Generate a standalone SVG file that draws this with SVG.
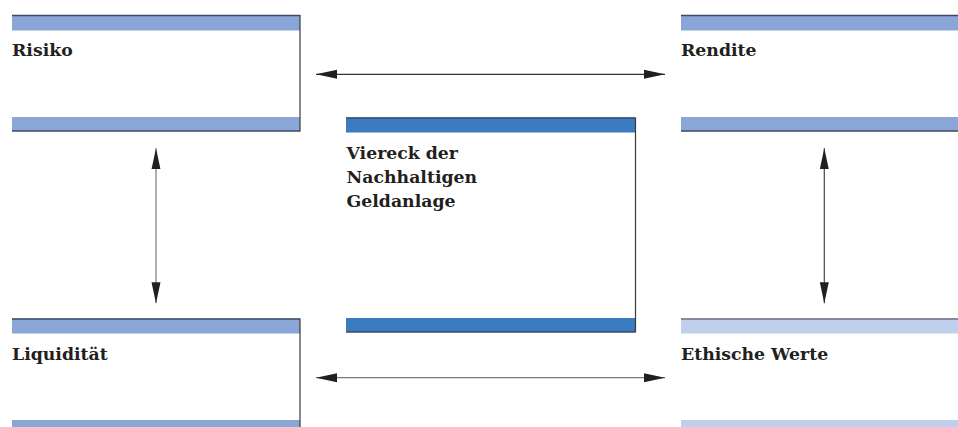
<svg xmlns="http://www.w3.org/2000/svg" width="958" height="427" viewBox="0 0 958 427">
  <style>
    .lbl { font-family: "DejaVu Serif", "Liberation Serif", serif; font-weight: bold; font-size: 17.3px; fill: #231f20; }
    .band { fill: #8aa6d6; }
    .bandC { fill: #3b7bbf; }
    .bandE { fill: #c0cfeb; }
    .edge { stroke: #3c4a66; stroke-width: 1.5; fill: none; }
    .edgeE { stroke: #6b7080; stroke-width: 1.5; fill: none; }
    .side { stroke: #3a3a3a; stroke-width: 1.2; fill: none; }
    .conn { stroke-width: 1.2; fill: none; marker-start: url(#ah); marker-end: url(#ah); }
  </style>
  <defs>
    <marker id="ah" markerUnits="userSpaceOnUse" markerWidth="21" markerHeight="10" refX="21" refY="5" orient="auto-start-reverse" viewBox="0 0 21 10">
      <path d="M0,0.5 L21,5 L0,9.5 Z" fill="#231f20"/>
    </marker>
  </defs>
  <rect width="958" height="427" fill="#ffffff"/>

  <g id="risiko">
    <rect class="band" x="12" y="15" width="288" height="15.5"/>
    <rect class="band" x="12" y="117" width="288" height="14"/>
    <line class="edge" x1="12" y1="15.5" x2="300" y2="15.5"/>
    <line class="edge" x1="12" y1="131" x2="300" y2="131"/>
    <line class="side" x1="300" y1="15" x2="300" y2="131.5"/>
    <text class="lbl" x="12" y="56">Risiko</text>
  </g>

  <g id="rendite">
    <rect class="band" x="681" y="15" width="277" height="15.5"/>
    <rect class="band" x="681" y="117" width="277" height="14"/>
    <line class="edge" x1="681" y1="15.5" x2="958" y2="15.5"/>
    <line class="edge" x1="681" y1="131" x2="958" y2="131"/>
    <text class="lbl" x="681" y="55.5">Rendite</text>
  </g>

  <g id="viereck">
    <rect class="bandC" x="346" y="117.5" width="289" height="15"/>
    <rect class="bandC" x="346" y="318" width="289" height="14"/>
    <line class="edge" x1="346" y1="118" x2="635" y2="118"/>
    <line class="edge" x1="346" y1="332" x2="635" y2="332"/>
    <line class="side" x1="635.5" y1="117.5" x2="635.5" y2="332.5"/>
    <text class="lbl" x="346.5" y="158.5">Viereck der</text>
    <text class="lbl" x="346.5" y="182.5">Nachhaltigen</text>
    <text class="lbl" x="346.5" y="206.5">Geldanlage</text>
  </g>

  <g id="liquiditaet">
    <rect class="band" x="12" y="318.5" width="288" height="15"/>
    <rect class="band" x="12" y="420" width="288" height="7"/>
    <line class="edge" x1="12" y1="319" x2="300" y2="319"/>
    <line class="side" x1="300" y1="318.5" x2="300" y2="427"/>
    <text class="lbl" x="12" y="359.5">Liquidität</text>
  </g>

  <g id="ethische-werte">
    <rect class="bandE" x="681" y="318.5" width="277" height="15"/>
    <rect class="bandE" x="681" y="420" width="277" height="7"/>
    <line class="edgeE" x1="681" y1="319" x2="958" y2="319"/>
    <text class="lbl" x="681" y="359.5">Ethische Werte</text>
  </g>

  <g id="connectors">
    <line class="conn" stroke="#333333" x1="316" y1="74.3" x2="665" y2="74.3"/>
    <line class="conn" stroke="#7a7a7a" x1="316" y1="377.7" x2="665" y2="377.7"/>
    <line class="conn" stroke="#7a7a7a" x1="156" y1="148.3" x2="156" y2="303.3"/>
    <line class="conn" stroke="#444444" x1="824.3" y1="148.3" x2="824.3" y2="303.3"/>
  </g>
</svg>
